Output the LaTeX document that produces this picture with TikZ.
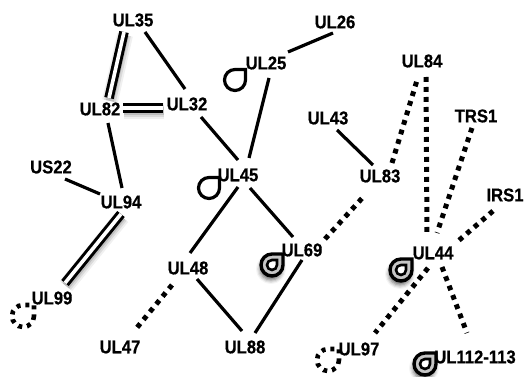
\documentclass[tikz,border=0pt]{standalone}
\usepackage{fontspec}
\setmainfont{Liberation Sans}[BoldFeatures={FakeStretch=0.9, FakeBold=0.6}]
\usetikzlibrary{calc,shadows.blur}
\begin{document}
\begin{tikzpicture}[x=1pt,y=-1pt,
  lbl/.style={font=\bfseries\fontsize{18.5}{20}\selectfont, inner sep=0pt, text=black},
  link/.style={draw=black, line width=3.2pt},
  duallink/.style={draw=black, line width=3pt, double=white, double distance=3.6pt},
  dotlink/.style={draw=black, line width=5pt, dash pattern=on 4.8pt off 5.2pt},
  softshadow/.style={
    preaction={draw=black, draw opacity=.06, line width=16pt},
    preaction={draw=black, draw opacity=.09, line width=12pt},
    preaction={draw=black, draw opacity=.13, line width=8pt}},
  pics/loopone/.style={code={
    \draw[line width=3.2pt] (10.5,0) arc[start angle=0,end angle=-270,radius=10.5pt] -- (10.5,-10.5) -- cycle;}},
  pics/looptwo/.style={code={
    \path[fill=gray!45, blur shadow={shadow xshift=-1pt, shadow yshift=-4pt, shadow blur radius=4pt, shadow opacity=60}]
      (11,0) arc[start angle=0,end angle=-270,radius=11pt] -- (11,-11) -- cycle;
    \draw[line width=3.4pt] (11,0) arc[start angle=0,end angle=-270,radius=11pt] -- (11,-11) -- cycle;
    \draw[line width=2.6pt, fill=white] (5,0) arc[start angle=0,end angle=-270,radius=5pt] -- (5,-5) -- cycle;}},
  pics/loopdot/.style={code={
    \draw[line width=4.6pt, dash pattern=on 4pt off 5pt] (11,0) arc[start angle=0,end angle=-270,radius=11pt] -- (11,-11) -- cycle;}}
]
\useasboundingbox (0,0) rectangle (525,377);

% gene labels
\node[lbl] (ul35) at (133,20) {UL35};
\node[lbl] (ul26) at (335,22) {UL26};
\node[lbl] (ul25) at (266,63) {UL25};
\node[lbl] (ul84) at (422,61) {UL84};
\node[lbl] (ul82) at (100,109) {UL82};
\node[lbl] (ul32) at (187,104) {UL32};
\node[lbl] (ul43) at (328,118) {UL43};
\node[lbl] (trs1) at (476,116) {TRS1};
\node[lbl] (us22) at (51,167) {US22};
\node[lbl] (ul45) at (238,175) {UL45};
\node[lbl] (ul83) at (380,176) {UL83};
\node[lbl] (ul94) at (121,202) {UL94};
\node[lbl] (irs1) at (505,195) {IRS1};
\node[lbl] (ul69) at (302,250) {UL69};
\node[lbl] (ul48) at (188,268) {UL48};
\node[lbl] (ul44) at (433,253) {UL44};
\node[lbl] (ul99) at (52,298) {UL99};
\node[lbl] (ul47) at (120,347) {UL47};
\node[lbl] (ul88) at (245,347) {UL88};
\node[lbl] (ul97) at (359,349) {UL97};
\node[lbl] (ul112) at (475,357) {UL112-113};

% soft shadows under the double links
\path[softshadow] ($(ul35)+(-8,15)$) -- ($(ul82)+(10,-8)$);
\path[softshadow] ($(ul82)+(24,2)$) -- ($(ul32)+(-23,7)$);
\path[softshadow] ($(ul94)+(1,15)$) -- ($(ul99)+(14,-12)$);

% double links
\draw[duallink] ($(ul35)+(-9,12)$) -- ($(ul82)+(9,-11)$);
\draw[duallink] ($(ul82)+(23,-1)$) -- ($(ul32)+(-24,4)$);
\draw[duallink] ($(ul94)+(0,12)$) -- ($(ul99)+(13,-15)$);

% solid links
\draw[link] ($(ul35)+(12,12)$) -- ($(ul32)+(-2,-15)$);
\draw[link] ($(ul82)+(8,14)$) -- ($(ul94)+(1,-14)$);
\draw[link] ($(us22)+(14,12)$) -- ($(ul94)+(-21,-8)$);
\draw[link] ($(ul26)+(-2,11)$) -- ($(ul25)+(22,-11)$);
\draw[link] ($(ul25)+(3,15)$) -- ($(ul45)+(11,-17)$);
\draw[link] ($(ul32)+(14,13)$) -- ($(ul45)+(0,-15)$);
\draw[link] ($(ul43)+(9,12)$) -- ($(ul83)+(-7,-11)$);
\draw[link] ($(ul45)+(0,12)$) -- ($(ul48)+(2,-15)$);
\draw[link] ($(ul45)+(12,13)$) -- ($(ul69)+(-9,-13)$);
\draw[link] ($(ul48)+(9,11)$) -- ($(ul88)+(-3,-16)$);
\draw[link] ($(ul69)+(0,10)$) -- ($(ul88)+(10,-14)$);

% dotted links
\draw[dotlink] ($(ul48)+(-16,17)$) -- ($(ul47)+(15,-17)$);
\draw[dotlink] ($(ul69)+(23,-11)$) -- ($(ul83)+(-15,19)$);
\draw[dotlink] ($(ul83)+(12,-13)$) -- ($(ul84)+(-4,16)$);
\draw[dotlink] ($(ul84)+(4,16)$) -- ($(ul44)+(-6,-20)$);
\draw[dotlink] ($(trs1)+(-4,12)$) -- ($(ul44)+(4,-20)$);
\draw[dotlink] ($(irs1)+(-12,16)$) -- ($(ul44)+(24,-11)$);
\draw[dotlink] ($(ul44)+(-5,15)$) -- ($(ul97)+(16,-16)$);
\draw[dotlink] ($(ul44)+(9,14)$) -- ($(ul112)+(-8,-24)$);

% loop markers
\pic at (235,80) {loopone};
\pic at (209,188) {loopone};
\pic at (272,265) {looptwo};
\pic at (401,270) {looptwo};
\pic at (425,364) {looptwo};
\pic at (23,316) {loopdot};
\pic at (328,360) {loopdot};
\end{tikzpicture}
\end{document}
